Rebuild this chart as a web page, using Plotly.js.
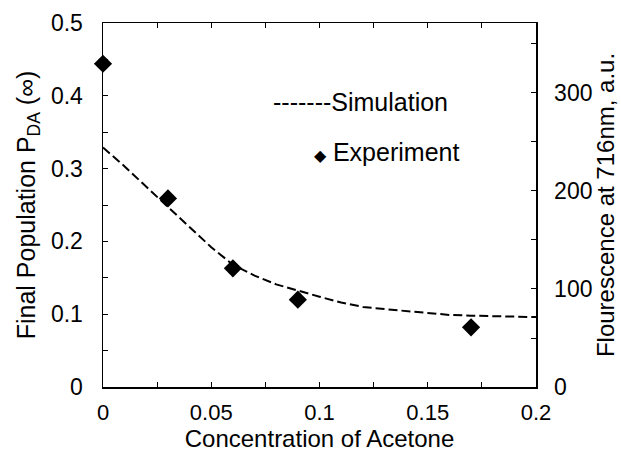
<!DOCTYPE html>
<html><head><meta charset="utf-8">
<script src="https://cdn.plot.ly/plotly-3.0.1.min.js"></script>
<style>html,body{margin:0;padding:0;background:#fff}#chart{width:621px;height:454px}</style>
</head><body><div id="chart"></div>
<script>
// Simulation curve
const simX = [0, 0.01, 0.02, 0.03, 0.04, 0.05, 0.06, 0.07, 0.08, 0.09, 0.10, 0.11, 0.12, 0.13, 0.14, 0.15, 0.16, 0.17, 0.18, 0.19, 0.20];
const simY = [0.329, 0.303, 0.275, 0.247, 0.219, 0.192, 0.168, 0.153, 0.141, 0.132, 0.124, 0.116, 0.110, 0.107, 0.104, 0.101, 0.099, 0.098, 0.097, 0.096, 0.096];
// Experiment points
const expX = [0, 0.030, 0.060, 0.090, 0.170];
const expY = [0.444, 0.259, 0.163, 0.120, 0.082];
// Tick labels
const xTicks = [0, 0.05, 0.1, 0.15, 0.2];
const xTickText = ['0', '0.05', '0.1', '0.15', '0.2'];
const yTicks = [0, 0.1, 0.2, 0.3, 0.4, 0.5];
const yTickText = ['0', '0.1', '0.2', '0.3', '0.4', '0.5'];
const y2Ticks = [0, 100, 200, 300];
const y2TickText = ['0', '100', '200', '300'];

const FONT = 'Liberation Sans, Arial, Helvetica, sans-serif';
const traces = [
  {x: simX, y: simY, mode: 'lines', name: 'Simulation',
   line: {color: '#000', width: 2, dash: '9px,4px'}, showlegend: false, cliponaxis: false},
  {x: expX, y: expY, mode: 'markers', name: 'Experiment',
   marker: {symbol: 'diamond', size: 14, color: '#000'}, showlegend: false, cliponaxis: false},
  {x: [0], y: [0], yaxis: 'y2', mode: 'markers', marker: {opacity: 0, size: 1}, showlegend: false, hoverinfo: 'skip'}
];
const layout = {
  width: 621, height: 454,
  margin: {l: 103, r: 85, t: 23, b: 67},
  paper_bgcolor: '#fff', plot_bgcolor: '#fff',
  font: {family: FONT, color: '#000', size: 22},
  showlegend: false,
  xaxis: {
    range: [0, 0.2], tickvals: xTicks, ticktext: xTickText,
    ticks: 'inside', ticklen: 5, tickwidth: 1, tickcolor: '#000',
    minor: {dtick: 0.025, ticks: 'inside', ticklen: 5, tickcolor: '#000', showgrid: false},
    showline: true, linecolor: '#000', linewidth: 1.5, mirror: 'ticks',
    showgrid: false, zeroline: false, ticklabelstandoff: 5,
    tickfont: {size: 22},
    title: {text: 'Concentration of Acetone', font: {size: 24}, standoff: 4}
  },
  yaxis: {
    range: [0, 0.5], tickvals: yTicks, ticktext: yTickText,
    ticks: 'inside', ticklen: 5, tickwidth: 1, tickcolor: '#000',
    minor: {dtick: 0.05, ticks: 'inside', ticklen: 5, tickcolor: '#000', showgrid: false},
    showline: true, linecolor: '#000', linewidth: 1.5, mirror: true,
    showgrid: false, zeroline: false, ticklabelstandoff: 14,
    tickfont: {size: 23},
    title: {text: 'Final Population P<sub>DA</sub> (∞)', font: {size: 25}, standoff: 8}
  },
  yaxis2: {
    overlaying: 'y', side: 'right', range: [0, 371.4],
    tickvals: y2Ticks, ticktext: y2TickText,
    ticks: 'inside', ticklen: 5, tickwidth: 1, tickcolor: '#000',
    minor: {dtick: 50, ticks: 'inside', ticklen: 5, tickcolor: '#000', showgrid: false},
    showline: true, linecolor: '#000', linewidth: 1.5,
    showgrid: false, zeroline: false, ticklabelstandoff: 12,
    tickfont: {size: 23},
    title: {text: 'Flourescence at 716nm, a.u.', font: {size: 24}, standoff: 2}
  },
  annotations: [
    {xref: 'paper', yref: 'paper', x: (271 - 103) / 433, y: (386.7 - 101.7) / 364,
     xanchor: 'left', yanchor: 'middle', showarrow: false,
     text: '-------Simulation', font: {size: 25, family: FONT}},
    {xref: 'paper', yref: 'paper', x: (312 - 103) / 433, y: (386.7 - 151.7) / 364,
     xanchor: 'left', yanchor: 'middle', showarrow: false,
     text: '<span style="font-size:16px">◆</span> Experiment', font: {size: 25, family: FONT}}
  ]
};
Plotly.newPlot('chart', traces, layout, {displayModeBar: false, staticPlot: true});
</script></body></html>
